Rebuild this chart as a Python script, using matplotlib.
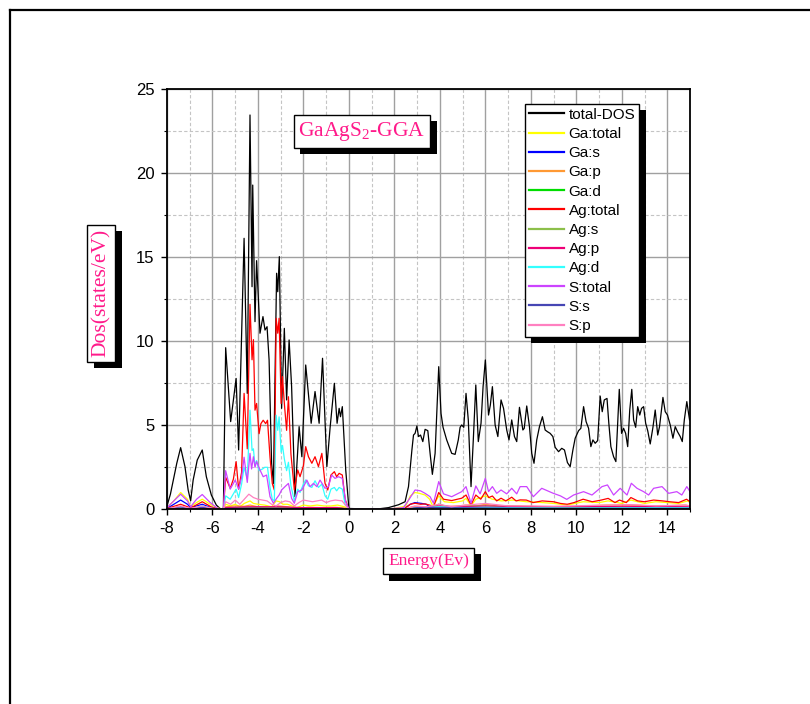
import matplotlib
matplotlib.use("Agg")
import matplotlib.pyplot as plt
from matplotlib.ticker import MultipleLocator
from matplotlib.lines import Line2D
import matplotlib.patheffects as pe

# ---- data: energy (eV), DOS (states/eV) ----
total_dos = [(-8.00, 0.20), (-7.85, 0.90), (-7.72, 1.74), (-7.57, 2.74), (-7.40, 3.67), (-7.21, 2.54),
             (-7.07, 1.15), (-6.96, 0.51), (-6.85, 1.74), (-6.67, 2.93), (-6.45, 3.53), (-6.27, 1.94),
             (-6.05, 0.85), (-5.83, 0.25), (-5.65, 0.03), (-5.52, 0.05), (-5.42, 9.62), (-5.20, 5.22),
             (-4.96, 7.79), (-4.85, 3.53), (-4.61, 16.13), (-4.47, 6.90), (-4.35, 23.47), (-4.26, 13.25),
             (-4.23, 19.30), (-4.13, 11.17), (-4.06, 14.80), (-3.91, 10.48), (-3.78, 11.47), (-3.69, 10.67),
             (-3.60, 10.87), (-3.51, 8.89), (-3.40, 2.74), (-3.32, 1.54), (-3.18, 14.05), (-3.13, 12.95),
             (-3.06, 15.04), (-2.96, 6.01), (-2.84, 10.77), (-2.74, 6.51), (-2.63, 10.08), (-2.52, 7.30),
             (-2.37, 0.75), (-2.19, 4.92), (-2.07, 3.13), (-1.90, 8.59), (-1.66, 5.12), (-1.49, 7.01),
             (-1.31, 5.12), (-1.16, 8.99), (-0.97, 2.54), (-0.83, 4.82), (-0.64, 7.50), (-0.52, 5.12),
             (-0.43, 6.01), (-0.37, 5.51), (-0.29, 6.11), (-0.14, 2.34), (0.00, 0.05), (1.15, 0.00),
             (1.74, 0.10), (2.18, 0.27), (2.47, 0.45), (2.62, 1.35), (2.77, 3.53), (2.84, 4.42),
             (2.91, 4.52), (2.99, 4.96), (3.06, 4.33), (3.15, 4.42), (3.25, 4.03), (3.35, 4.76),
             (3.47, 4.68), (3.57, 3.33), (3.67, 2.08), (3.79, 3.33), (3.95, 8.49), (4.05, 5.71),
             (4.14, 4.88), (4.30, 4.13), (4.52, 3.33), (4.67, 3.27), (4.81, 4.13), (4.89, 4.88),
             (4.96, 5.02), (5.05, 4.88), (5.15, 6.90), (5.25, 5.32), (5.37, 1.35), (5.47, 4.13),
             (5.58, 7.40), (5.69, 4.03), (5.81, 5.12), (5.90, 7.30), (6.00, 8.89), (6.14, 5.61),
             (6.22, 6.21), (6.31, 7.30), (6.43, 5.02), (6.55, 4.33), (6.69, 6.51), (6.80, 6.01),
             (6.94, 4.72), (7.04, 4.13), (7.16, 5.32), (7.28, 4.33), (7.38, 4.03), (7.50, 6.07),
             (7.65, 4.72), (7.71, 4.82), (7.82, 6.15), (7.94, 4.92), (8.04, 3.33), (8.14, 2.74),
             (8.26, 4.13), (8.38, 4.92), (8.51, 5.51), (8.63, 4.72), (8.73, 4.62), (8.85, 4.52),
             (8.97, 4.33), (9.07, 3.69), (9.22, 3.43), (9.36, 3.63), (9.48, 3.53), (9.61, 2.78),
             (9.73, 2.54), (9.85, 3.53), (9.95, 4.23), (10.10, 4.68), (10.20, 4.82), (10.32, 6.11),
             (10.43, 5.22), (10.54, 4.82), (10.64, 3.73), (10.73, 4.13), (10.83, 3.93), (10.94, 4.09),
             (11.05, 6.74), (11.14, 5.81), (11.23, 6.51), (11.35, 6.60), (11.43, 5.12), (11.52, 3.73),
             (11.64, 3.13), (11.74, 2.84), (11.89, 7.14), (11.99, 4.52), (12.08, 4.82), (12.17, 4.52),
             (12.26, 3.73), (12.35, 5.91), (12.44, 7.14), (12.52, 5.32), (12.61, 4.88), (12.70, 6.11),
             (12.79, 5.61), (12.87, 6.01), (12.96, 6.11), (13.05, 5.12), (13.14, 4.68), (13.25, 3.89),
             (13.37, 4.88), (13.47, 5.91), (13.58, 4.42), (13.66, 4.92), (13.81, 6.66), (13.91, 5.81),
             (14.01, 5.61), (14.13, 5.02), (14.25, 4.23), (14.35, 4.92), (14.45, 4.62), (14.57, 4.33),
             (14.66, 4.03), (14.75, 5.32), (14.86, 6.41), (14.98, 5.32)]

ga_total = [(-8.0, 0.1), (-7.7, 0.5), (-7.4, 1.0), (-7.1, 0.6), (-6.96, 0.15), (-6.7, 0.4), (-6.45, 0.6),
            (-6.1, 0.3), (-5.8, 0.08), (-5.52, 0.02), (-5.42, 0.3), (-5.2, 0.2), (-5.0, 0.3), (-4.8, 0.15),
            (-4.6, 0.35), (-4.35, 0.5), (-4.2, 0.35), (-4.0, 0.3), (-3.7, 0.25), (-3.4, 0.15), (-3.2, 0.5),
            (-3.05, 0.45), (-2.9, 0.3), (-2.7, 0.3), (-2.5, 0.2), (-2.3, 0.1), (-2.0, 0.25), (-1.7, 0.2),
            (-1.4, 0.25), (-1.1, 0.2), (-0.8, 0.2), (-0.5, 0.25), (-0.2, 0.15), (0.0, 0.0), (1.2, 0.0),
            (2.0, 0.05), (2.5, 0.2), (2.7, 0.8), (2.9, 1.0), (3.1, 0.95), (3.35, 0.85), (3.55, 0.6),
            (3.7, 0.15), (3.95, 0.8), (4.2, 0.45), (4.6, 0.4), (5.0, 0.5), (5.15, 0.65), (5.37, 0.2),
            (5.58, 0.6), (6.0, 0.8), (6.3, 0.6), (6.7, 0.5), (7.2, 0.55), (7.8, 0.45), (8.5, 0.4),
            (9.0, 0.35), (9.6, 0.25), (10.3, 0.45), (11.0, 0.4), (11.4, 0.5), (12.0, 0.35), (12.4, 0.55),
            (13.0, 0.35), (13.5, 0.45), (14.0, 0.4), (14.5, 0.35), (14.9, 0.5), (15.0, 0.4)]

ga_s = [(-8.0, 0.05), (-7.7, 0.3), (-7.4, 0.55), (-7.1, 0.3), (-6.96, 0.1), (-6.7, 0.2), (-6.45, 0.3),
        (-6.1, 0.12), (-5.8, 0.03), (-5.52, 0.0), (-5.4, 0.1), (-4.5, 0.1), (-3.5, 0.08), (-3.1, 0.12),
        (-2.5, 0.06), (-1.5, 0.05), (-0.5, 0.05), (0.0, 0.0), (2.4, 0.0), (2.7, 0.3), (2.9, 0.4),
        (3.2, 0.35), (3.4, 0.3), (3.6, 0.1), (3.95, 0.15), (4.5, 0.1), (6.0, 0.12), (8.0, 0.08),
        (10.0, 0.08), (12.0, 0.1), (15.0, 0.08)]

ga_p = [(-8.0, 0.02), (-7.4, 0.15), (-6.96, 0.05), (-6.45, 0.12), (-5.8, 0.02), (-5.52, 0.0), (-5.42, 0.15),
        (-5.0, 0.2), (-4.6, 0.18), (-4.35, 0.25), (-4.0, 0.15), (-3.5, 0.12), (-3.1, 0.2), (-2.7, 0.15),
        (-2.3, 0.05), (-1.8, 0.12), (-1.2, 0.1), (-0.6, 0.12), (-0.2, 0.08), (0.0, 0.0), (2.4, 0.0),
        (2.8, 0.15), (3.3, 0.15), (3.7, 0.05), (3.95, 0.3), (4.4, 0.15), (5.15, 0.25), (5.6, 0.2),
        (6.0, 0.3), (6.6, 0.2), (7.5, 0.2), (8.5, 0.15), (9.7, 0.1), (10.3, 0.2), (11.3, 0.25),
        (12.4, 0.25), (13.5, 0.2), (14.8, 0.25), (15.0, 0.2)]

ga_d = [(-8.0, 0.01), (-7.4, 0.05), (-6.45, 0.04), (-5.52, 0.0), (-5.4, 0.05), (-4.4, 0.08), (-3.1, 0.06),
        (-2.0, 0.04), (-0.5, 0.04), (0.0, 0.0), (2.5, 0.0), (3.0, 0.05), (3.95, 0.15), (5.0, 0.06),
        (6.0, 0.08), (8.0, 0.05), (10.0, 0.05), (12.0, 0.05), (15.0, 0.05)]

ag_total = [(-8.0, 0.05), (-7.4, 0.3), (-6.96, 0.08), (-6.45, 0.45), (-6.0, 0.1), (-5.6, 0.0), (-5.52, 0.0),
            (-5.42, 1.9), (-5.22, 1.25), (-5.08, 1.8), (-4.96, 2.84), (-4.85, 1.2), (-4.72, 2.2), (-4.61, 6.9),
            (-4.47, 3.6), (-4.35, 12.2), (-4.26, 8.9), (-4.20, 10.1), (-4.13, 5.9), (-4.06, 6.3), (-3.95, 4.5),
            (-3.87, 5.1), (-3.77, 5.3), (-3.66, 5.1), (-3.58, 5.3), (-3.47, 3.1), (-3.37, 1.54), (-3.28, 1.15),
            (-3.20, 11.37), (-3.13, 10.48), (-3.07, 11.37), (-2.98, 6.3), (-2.92, 7.9), (-2.84, 6.3),
            (-2.74, 4.7), (-2.66, 6.7), (-2.55, 3.3), (-2.40, 1.15), (-2.25, 2.34), (-2.15, 1.94), (-2.00, 2.6),
            (-1.90, 3.73), (-1.78, 3.13), (-1.63, 2.74), (-1.49, 3.13), (-1.34, 2.54), (-1.19, 3.33),
            (-1.05, 1.54), (-0.93, 1.15), (-0.79, 2.04), (-0.64, 2.24), (-0.54, 1.94), (-0.43, 2.14),
            (-0.29, 2.04), (-0.17, 0.6), (0.0, 0.0), (2.4, 0.0), (2.7, 0.3), (2.91, 0.36), (3.15, 0.3),
            (3.35, 0.32), (3.55, 0.25), (3.72, 0.16), (3.95, 1.0), (4.16, 0.6), (4.52, 0.52), (4.96, 0.66),
            (5.15, 0.85), (5.37, 0.26), (5.58, 0.85), (5.8, 0.6), (6.00, 1.05), (6.15, 0.7), (6.31, 0.79),
            (6.5, 0.5), (6.69, 0.66), (6.9, 0.5), (7.16, 0.72), (7.35, 0.5), (7.53, 0.56), (7.8, 0.55),
            (8.1, 0.4), (8.5, 0.5), (9.0, 0.45), (9.3, 0.35), (9.6, 0.3), (9.9, 0.4), (10.3, 0.6),
            (10.7, 0.45), (11.1, 0.55), (11.4, 0.65), (11.7, 0.4), (11.9, 0.55), (12.2, 0.4), (12.4, 0.7),
            (12.7, 0.5), (13.0, 0.45), (13.4, 0.55), (13.8, 0.5), (14.1, 0.45), (14.5, 0.4), (14.85, 0.6),
            (15.0, 0.45)]

ag_s = [(-8.0, 0.0), (-7.4, 0.05), (-6.45, 0.05), (-5.52, 0.0), (-5.42, 0.1), (-4.4, 0.12), (-3.1, 0.12),
        (-2.0, 0.08), (-0.5, 0.1), (0.0, 0.0), (2.5, 0.0), (3.0, 0.1), (3.5, 0.1), (3.95, 0.3), (4.4, 0.12),
        (5.15, 0.2), (6.0, 0.2), (7.0, 0.12), (8.0, 0.1), (10.0, 0.1), (12.0, 0.12), (15.0, 0.1)]

ag_p = [(-8.0, 0.0), (-7.4, 0.08), (-6.45, 0.1), (-5.52, 0.0), (-5.42, 0.1), (-4.4, 0.15), (-3.1, 0.15),
        (-2.0, 0.1), (-0.5, 0.1), (0.0, 0.0), (2.5, 0.0), (3.0, 0.08), (3.95, 0.2), (5.0, 0.15), (6.0, 0.2),
        (8.0, 0.15), (10.0, 0.15), (12.0, 0.18), (15.0, 0.15)]

ag_d = [(-8.0, 0.02), (-7.4, 0.15), (-6.96, 0.03), (-6.45, 0.2), (-6.0, 0.05), (-5.6, 0.0), (-5.52, 0.0),
        (-5.42, 0.8), (-5.22, 0.6), (-4.96, 1.2), (-4.85, 0.7), (-4.72, 1.5), (-4.61, 2.5), (-4.47, 1.8),
        (-4.35, 5.9), (-4.26, 3.5), (-4.20, 3.6), (-4.13, 2.6), (-4.06, 2.9), (-3.95, 2.3), (-3.8, 2.4),
        (-3.7, 2.5), (-3.58, 2.5), (-3.47, 1.3), (-3.37, 0.6), (-3.28, 0.5), (-3.20, 5.6), (-3.13, 4.7),
        (-3.07, 5.5), (-2.98, 3.4), (-2.92, 3.8), (-2.84, 3.0), (-2.74, 2.3), (-2.66, 2.8), (-2.55, 1.4),
        (-2.40, 0.5), (-2.25, 1.2), (-2.15, 1.0), (-2.0, 1.5), (-1.90, 1.75), (-1.78, 1.4), (-1.63, 1.3),
        (-1.49, 1.7), (-1.34, 1.3), (-1.19, 1.5), (-1.05, 0.8), (-0.93, 0.6), (-0.79, 1.2), (-0.64, 1.3),
        (-0.54, 1.1), (-0.43, 1.3), (-0.29, 1.2), (-0.17, 0.3), (0.0, 0.0), (2.5, 0.0), (3.0, 0.08),
        (3.95, 0.15), (5.0, 0.1), (6.0, 0.12), (8.0, 0.08), (10.0, 0.08), (12.0, 0.1), (15.0, 0.1)]

s_total = [(-8.0, 0.1), (-7.7, 0.5), (-7.4, 0.9), (-7.1, 0.5), (-6.96, 0.15), (-6.7, 0.6), (-6.45, 0.88),
           (-6.1, 0.4), (-5.8, 0.08), (-5.6, 0.0), (-5.52, 0.0), (-5.42, 2.3), (-5.22, 1.2), (-5.0, 1.74),
           (-4.85, 1.2), (-4.72, 1.9), (-4.61, 3.1), (-4.47, 1.6), (-4.35, 3.33), (-4.28, 2.4), (-4.20, 3.13),
           (-4.13, 2.5), (-4.06, 2.84), (-3.91, 2.34), (-3.77, 1.94), (-3.62, 2.04), (-3.47, 0.75),
           (-3.32, 0.36), (-3.18, 0.65), (-3.07, 0.85), (-2.96, 1.15), (-2.81, 1.35), (-2.66, 1.54),
           (-2.52, 0.65), (-2.40, 0.36), (-2.25, 1.05), (-2.07, 1.15), (-1.85, 1.74), (-1.71, 1.35),
           (-1.56, 1.54), (-1.41, 1.35), (-1.27, 1.74), (-1.05, 1.25), (-0.90, 1.35), (-0.76, 2.04),
           (-0.61, 1.84), (-0.46, 1.94), (-0.29, 1.84), (-0.14, 0.45), (0.0, 0.0), (1.5, 0.0), (2.4, 0.1),
           (2.65, 0.6), (2.91, 1.15), (3.15, 1.1), (3.35, 0.95), (3.57, 0.75), (3.72, 0.36), (3.95, 1.65),
           (4.16, 0.92), (4.52, 0.75), (4.96, 1.05), (5.15, 1.35), (5.37, 0.36), (5.58, 1.39), (5.77, 0.92),
           (6.00, 1.84), (6.14, 1.05), (6.31, 1.35), (6.50, 0.95), (6.69, 1.15), (6.94, 0.92), (7.16, 1.25),
           (7.38, 0.92), (7.53, 1.35), (7.82, 1.35), (8.11, 0.75), (8.48, 1.25), (8.99, 0.95), (9.3, 0.8),
           (9.58, 0.59), (9.88, 0.85), (10.32, 1.05), (10.69, 0.85), (11.13, 1.35), (11.37, 1.45),
           (11.64, 0.85), (11.93, 1.25), (12.23, 0.85), (12.42, 1.55), (12.67, 1.25), (12.96, 1.05),
           (13.18, 0.85), (13.40, 1.25), (13.77, 1.35), (14.06, 0.95), (14.42, 1.05), (14.64, 0.85),
           (14.86, 1.35), (15.0, 1.05)]

s_s = [(-8.0, 0.02), (-7.4, 0.15), (-6.96, 0.03), (-6.45, 0.12), (-5.8, 0.02), (-5.52, 0.0), (-5.42, 0.05),
       (-4.4, 0.06), (-3.1, 0.05), (-1.5, 0.04), (0.0, 0.0), (2.5, 0.0), (3.0, 0.1), (4.0, 0.1), (6.0, 0.08),
       (8.0, 0.06), (10.0, 0.06), (12.0, 0.06), (15.0, 0.06)]

s_p = [(-8.0, 0.02), (-7.4, 0.2), (-6.96, 0.05), (-6.45, 0.2), (-6.0, 0.05), (-5.6, 0.0), (-5.52, 0.0),
       (-5.42, 0.45), (-5.2, 0.3), (-5.0, 0.55), (-4.8, 0.3), (-4.6, 0.6), (-4.4, 0.9), (-4.2, 0.7),
       (-4.0, 0.6), (-3.8, 0.55), (-3.6, 0.5), (-3.4, 0.3), (-3.2, 0.2), (-3.0, 0.4), (-2.8, 0.5),
       (-2.6, 0.45), (-2.4, 0.2), (-2.2, 0.4), (-2.0, 0.55), (-1.8, 0.5), (-1.6, 0.45), (-1.4, 0.5),
       (-1.2, 0.55), (-1.0, 0.4), (-0.8, 0.5), (-0.6, 0.55), (-0.3, 0.5), (-0.1, 0.15), (0.0, 0.0),
       (2.4, 0.0), (2.9, 0.2), (3.4, 0.15), (3.95, 0.3), (4.5, 0.15), (5.15, 0.25), (6.0, 0.35),
       (7.0, 0.2), (8.0, 0.2), (9.0, 0.18), (10.3, 0.22), (11.4, 0.25), (12.4, 0.28), (13.5, 0.2),
       (14.8, 0.25), (15.0, 0.2)]

series_labels = ["total-DOS", "Ga:total", "Ga:s", "Ga:p", "Ga:d", "Ag:total", "Ag:s", "Ag:p",
                 "Ag:d", "S:total", "S:s", "S:p"]
series_data = [total_dos, ga_total, ga_s, ga_p, ga_d, ag_total, ag_s, ag_p, ag_d, s_total, s_s, s_p]
series_colors = ["#000000", "#ffff00", "#0000ff", "#ff9933", "#00dd00", "#ff0000", "#8cbf4a",
                 "#ee0077", "#33ffff", "#cc44ff", "#4646b4", "#ff80c0"]

x_ticks = [-8, -6, -4, -2, 0, 2, 4, 6, 8, 10, 12, 14]
y_ticks = [0, 5, 10, 15, 20, 25]

title_text = "GaAgS$_\\mathregular{2}$-GGA"
x_label = "Energy(Ev)"
y_label = "Dos(states/eV)"
label_color = "#ff1a8a"

# ---- figure ----
fig = plt.figure(figsize=(8.1, 7.04), dpi=100)
fig.patch.set_facecolor("white")
ax = fig.add_axes([167 / 810, 1 - 509.3 / 704, 523 / 810, 420 / 704])

for data, label, color in zip(series_data, series_labels, series_colors):
    xs = [p[0] for p in data]
    ys = [p[1] for p in data]
    ax.plot(xs, ys, color=color, lw=0.9, label=label)

ax.set_xlim(-8, 15)
ax.set_ylim(0, 25)
ax.set_xticks(x_ticks)
ax.set_xticklabels([str(t) for t in x_ticks])
ax.set_yticks(y_ticks)
ax.xaxis.set_minor_locator(MultipleLocator(1))
ax.yaxis.set_minor_locator(MultipleLocator(2.5))
ax.set_axisbelow(True)
ax.grid(which="major", color="#a0a0a0", lw=1.0, ls="-")
ax.grid(which="minor", color="#c4c4c4", lw=0.8, ls=(0, (3, 2)))

for sp in ax.spines.values():
    sp.set_linewidth(1.3)
    sp.set_color("black")

ax.tick_params(which="major", direction="out", length=4, width=1, labelsize=12,
               labelfontfamily="Liberation Sans")
ax.tick_params(which="minor", direction="out", length=2.5, width=0.8)
ax.tick_params(axis="y", pad=5)
ax.tick_params(axis="x", pad=4.5)

shadow = [pe.SimplePatchShadow(offset=(4.6, -4.6), shadow_rgbFace="black", alpha=1.0), pe.Normal()]

t_title = ax.text(0.373, 0.90, title_text, transform=ax.transAxes, ha="center", va="center",
                  fontsize=15.5, family="Liberation Serif", color=label_color,
                  bbox=dict(boxstyle="square,pad=0.22", fc="white", ec="black", lw=1.0))
t_x = ax.text(0.5, -0.123, x_label, transform=ax.transAxes, ha="center", va="center",
              fontsize=12.5, family="Liberation Serif", color=label_color,
              bbox=dict(boxstyle="square,pad=0.3", fc="white", ec="black", lw=1.0))
t_y = ax.text(-0.1258, 0.5145, y_label, transform=ax.transAxes, ha="center", va="center",
              rotation=90, fontsize=15.5, family="Liberation Serif", color=label_color,
              bbox=dict(boxstyle="square,pad=0.2", fc="white", ec="black", lw=1.0))
for t in (t_title, t_x, t_y):
    t.get_bbox_patch().set_path_effects(shadow)

leg = ax.legend(loc="upper left", bbox_to_anchor=(525 / 810, 1 - 104 / 704),
                bbox_transform=fig.transFigure, borderaxespad=0, frameon=True, fancybox=False,
                framealpha=1.0, edgecolor="black", prop={"family": "Liberation Sans", "size": 11},
                handlelength=2.3, handletextpad=0.3, borderpad=0.25, labelspacing=0.34)
leg.get_frame().set_linewidth(1.0)
leg.get_frame().set_path_effects(shadow)
for h in leg.get_lines():
    h.set_linewidth(1.6)

# page frame lines along the top and left edges
fig.add_artist(Line2D([9.5 / 810, 9.5 / 810], [0, 1 - 10 / 704], color="black", lw=1.6,
                      transform=fig.transFigure))
fig.add_artist(Line2D([9.5 / 810, 1], [1 - 10 / 704, 1 - 10 / 704], color="black", lw=1.6,
                      transform=fig.transFigure))

fig.savefig("out.png", dpi=100)
